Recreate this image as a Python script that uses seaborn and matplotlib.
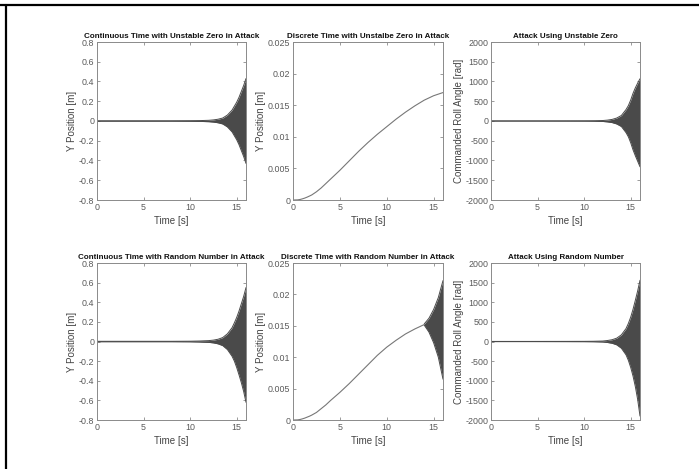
import matplotlib
matplotlib.use("Agg")
import matplotlib.pyplot as plt
import seaborn as sns
import pandas as pd
from matplotlib.lines import Line2D
from matplotlib.ticker import FixedLocator, FuncFormatter

# ---- smooth discrete-time responses ----
t_disc = [0, 0.5, 0.75, 1, 1.25, 1.5, 1.75, 2, 2.5, 3, 3.5, 4, 5, 6, 7, 8, 9, 10, 11,
          12, 12.5, 13, 14, 15, 16]
y_disc_zero = [0, 0.00002, 0.00008, 0.00018, 0.0003, 0.00045, 0.00062, 0.0008, 0.0013,
               0.0019, 0.0026, 0.0033, 0.0047, 0.0062, 0.0077, 0.0091, 0.0104, 0.0116,
               0.0128, 0.0139, 0.0144, 0.0149, 0.0158, 0.0165, 0.0170]

t_disc_rand = [0, 0.5, 0.75, 1, 1.25, 1.5, 1.75, 2, 2.5, 3, 3.5, 4, 5, 6, 7, 8, 9, 10,
               11, 12, 12.5, 13, 14]
y_disc_rand = [0, 0.00002, 0.00008, 0.00018, 0.0003, 0.00045, 0.0006, 0.00078, 0.0012,
               0.0018, 0.0024, 0.0031, 0.0044, 0.0058, 0.0073, 0.0088, 0.0103, 0.0116,
               0.0127, 0.0137, 0.0141, 0.0145, 0.0152]
t_disc_rand_osc = [14, 14.5, 15, 15.5, 16]
disc_rand_upper = [0.0153, 0.0162, 0.0176, 0.0195, 0.0222]
disc_rand_lower = [0.0151, 0.0140, 0.0123, 0.0100, 0.0065]

# ---- envelopes of the oscillating responses ----
t_env = [0, 4, 8, 10, 11, 12, 12.5, 13, 13.5, 14, 14.5, 14.75, 15, 15.25, 15.5, 15.75, 16]
cont_zero_upper = [0.002, 0.002, 0.002, 0.003, 0.004, 0.007, 0.011, 0.018, 0.03, 0.06,
                   0.11, 0.15, 0.19, 0.24, 0.30, 0.36, 0.43]
cont_zero_lower = [-0.002, -0.002, -0.002, -0.003, -0.004, -0.007, -0.011, -0.018, -0.03,
                   -0.06, -0.11, -0.15, -0.19, -0.24, -0.30, -0.36, -0.43]
cont_rand_upper = [0.002, 0.002, 0.002, 0.003, 0.005, 0.009, 0.014, 0.023, 0.04, 0.078,
                   0.14, 0.19, 0.245, 0.31, 0.385, 0.46, 0.55]
cont_rand_lower = [-0.002, -0.002, -0.002, -0.003, -0.005, -0.009, -0.014, -0.024, -0.042,
                   -0.082, -0.15, -0.20, -0.265, -0.34, -0.42, -0.51, -0.62]
cmd_zero_upper = [2, 2, 3, 4, 6, 12, 22, 40, 75, 140, 290, 390, 530, 700, 840, 960, 1070]
cmd_zero_lower = [-2, -2, -3, -4, -6, -12, -22, -40, -75, -140, -295, -400, -550, -730,
                  -880, -1020, -1160]
cmd_rand_upper = [2, 2, 3, 4, 6, 12, 25, 45, 85, 170, 330, 460, 620, 820, 1050, 1290, 1560]
cmd_rand_lower = [-2, -2, -3, -4, -6, -12, -25, -45, -85, -172, -340, -480, -660, -880,
                  -1150, -1480, -1900]

titles = ["Continuous Time with Unstable Zero in Attack",
          "Discrete Time with Unstalbe Zero in Attack",
          "Attack Using Unstable Zero",
          "Continuous Time with Random Number in Attack",
          "Discrete Time with Random Number in Attack",
          "Attack Using Random Number"]
ylabels = ["Y Position [m]", "Y Position [m]", "Commanded Roll Angle [rad]"] * 2
x_ticks = [0, 5, 10, 15]
pos_ticks = [-0.8, -0.6, -0.4, -0.2, 0, 0.2, 0.4, 0.6, 0.8]
disc_ticks = [0, 0.005, 0.01, 0.015, 0.02, 0.025]
cmd_ticks = [-2000, -1500, -1000, -500, 0, 500, 1000, 1500, 2000]

sns.set_theme(style="white")
plt.rcParams["font.family"] = ["Liberation Sans", "DejaVu Sans"]

fig = plt.figure(figsize=(6.99, 4.69), dpi=100)
W, H = 699, 469
col_left = [97, 293, 491]
col_w = [149, 150, 149]
row_top = [42, 263]
row_h = [158, 157]

TICK_C = "#5a5a5a"
SPINE_C = "#8a8a8a"
FILL_C = "#4a4a4a"
LINE_C = "#777777"

axes = []
for r in range(2):
    for c in range(3):
        ax = fig.add_axes([col_left[c] / W, 1 - (row_top[r] + row_h[r]) / H,
                           col_w[c] / W, row_h[r] / H])
        axes.append(ax)


def envelope(ax, t, up, lo):
    df = pd.DataFrame({"t": t, "up": up, "lo": lo})
    ax.fill_between(df["t"], df["lo"], df["up"], color=FILL_C, lw=0)
    sns.lineplot(data=df, x="t", y="up", ax=ax, color=FILL_C, lw=0.7)
    sns.lineplot(data=df, x="t", y="lo", ax=ax, color=FILL_C, lw=0.7)


envelope(axes[0], t_env, cont_zero_upper, cont_zero_lower)
sns.lineplot(x=t_disc, y=y_disc_zero, ax=axes[1], color=LINE_C, lw=0.8)
envelope(axes[2], t_env, cmd_zero_upper, cmd_zero_lower)
envelope(axes[3], t_env, cont_rand_upper, cont_rand_lower)
sns.lineplot(x=t_disc_rand, y=y_disc_rand, ax=axes[4], color=LINE_C, lw=0.8)
envelope(axes[4], t_disc_rand_osc, disc_rand_upper, disc_rand_lower)
envelope(axes[5], t_env, cmd_rand_upper, cmd_rand_lower)


def fmt(v, _):
    return "%g" % round(v, 6)


y_specs = [(pos_ticks, (-0.8, 0.8)), (disc_ticks, (0, 0.025)), (cmd_ticks, (-2000, 2000))]
for i, ax in enumerate(axes):
    ticks, lim = y_specs[i % 3]
    ax.set_xlim(0, 16)
    ax.set_ylim(*lim)
    ax.xaxis.set_major_locator(FixedLocator(x_ticks))
    ax.yaxis.set_major_locator(FixedLocator(ticks))
    ax.xaxis.set_major_formatter(FuncFormatter(fmt))
    ax.yaxis.set_major_formatter(FuncFormatter(fmt))
    ax.tick_params(direction="in", length=2.5, width=0.6, color=SPINE_C,
                   labelsize=6.4, labelcolor=TICK_C, pad=2,
                   top=True, right=True, bottom=True, left=True)
    for sp in ax.spines.values():
        sp.set_visible(True)
        sp.set_color(SPINE_C)
        sp.set_linewidth(0.7)
    ax.set_facecolor("white")
    ax.set_title(titles[i], fontsize=5.8, fontweight="bold", color="#111111", pad=3)
    ax.set_xlabel("Time [s]", fontsize=7, color="#444444", labelpad=3)
    ax.set_ylabel(ylabels[i], fontsize=7, color="#444444", labelpad=1)

# frame lines along the top and left edges
fig.add_artist(Line2D([0, 1], [1 - 5 / H, 1 - 5 / H], transform=fig.transFigure,
                      color="black", lw=1.6))
fig.add_artist(Line2D([6 / W, 6 / W], [0, 1 - 5 / H], transform=fig.transFigure,
                      color="black", lw=1.6))

fig.savefig("out.png", dpi=100, facecolor="white")
